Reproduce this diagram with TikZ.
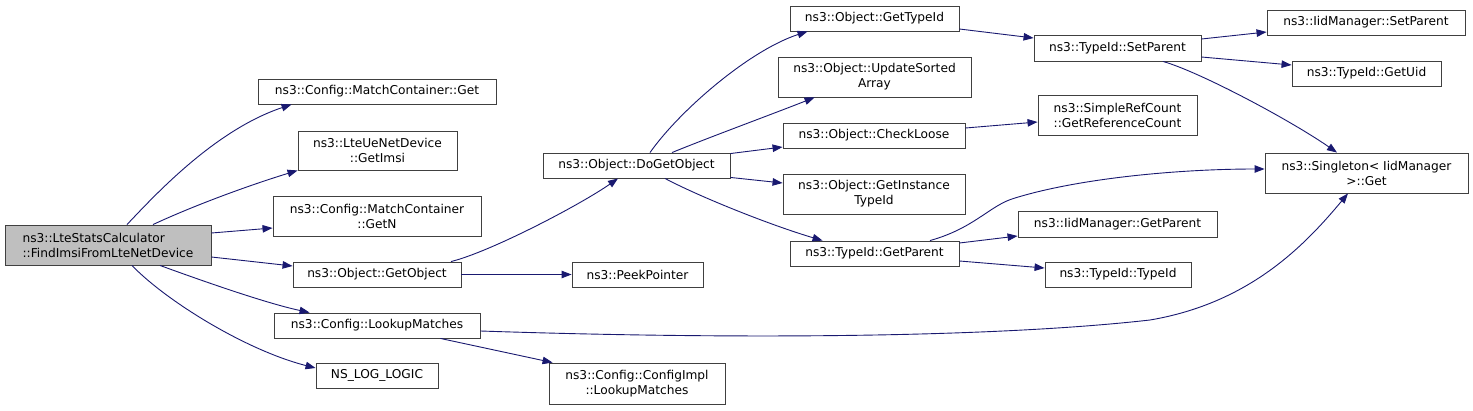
\documentclass[tikz,border=0pt]{standalone}
\usepackage{fontspec}
\setmainfont{DejaVu Sans}
\usetikzlibrary{arrows.meta}
\definecolor{edgec}{HTML}{191970}
\definecolor{boxc}{HTML}{404040}
\definecolor{rootc}{HTML}{BFBFBF}
\begin{document}
\begin{tikzpicture}[x=1pt,y=-1pt,
  box/.style={draw=boxc,line width=0.9pt,rectangle,inner sep=0pt,align=center,font=\fontsize{12.2}{15}\selectfont,fill=white},
  edge/.style={draw=edgec,line width=0.9pt,-{Triangle[length=10pt,width=7.5pt]},fill=none}]
\useasboundingbox[fill=white] (0,0) rectangle (1473,410);
% nodes
\node[box,fill=rootc,align=left,minimum width=206,minimum height=40] (root) at (108,245) {ns3::LteStatsCalculator\\::FindImsiFromLteNetDevice};
\node[box,minimum width=238,minimum height=25] (mcget) at (377,91.5) {ns3::Config::MatchContainer::Get};
\node[box,minimum width=159,minimum height=39] (getimsi) at (377.5,150.5) {ns3::LteUeNetDevice\\::GetImsi};
\node[box,minimum width=208,minimum height=40] (getn) at (377,216) {ns3::Config::MatchContainer\\::GetN};
\node[box,minimum width=168,minimum height=25] (getobject) at (377,274.5) {ns3::Object::GetObject};
\node[box,minimum width=206,minimum height=25] (lookup) at (377,325.5) {ns3::Config::LookupMatches};
\node[box,minimum width=122,minimum height=25] (nslog) at (377,375.5) {NS\_LOG\_LOGIC};
\node[box,minimum width=169,minimum height=25] (gettypeid) at (874.5,18.5) {ns3::Object::GetTypeId};
\node[box,minimum width=193,minimum height=40] (update) at (874.5,77) {ns3::Object::UpdateSorted\\Array};
\node[box,minimum width=182,minimum height=25] (checkloose) at (874,135.5) {ns3::Object::CheckLoose};
\node[box,minimum width=187,minimum height=25] (dogetobject) at (636.5,165.5) {ns3::Object::DoGetObject};
\node[box,minimum width=182,minimum height=40] (getinst) at (874,194) {ns3::Object::GetInstance\\TypeId};
\node[box,minimum width=169,minimum height=25] (tgetparent) at (874.5,253.5) {ns3::TypeId::GetParent};
\node[box,minimum width=131,minimum height=25] (peek) at (637.5,274.5) {ns3::PeekPointer};
\node[box,minimum width=176,minimum height=41] (configimpl) at (637,383.5) {ns3::Config::ConfigImpl\\::LookupMatches};
\node[box,minimum width=167,minimum height=26] (setparent) at (1117.5,48) {ns3::TypeId::SetParent};
\node[box,minimum width=198,minimum height=25] (iidsetparent) at (1366,22.5) {ns3::IidManager::SetParent};
\node[box,minimum width=149,minimum height=25] (getuid) at (1366.5,73.5) {ns3::TypeId::GetUid};
\node[box,minimum width=159,minimum height=40] (simpleref) at (1117.5,115) {ns3::SimpleRefCount\\::GetReferenceCount};
\node[box,minimum width=203,minimum height=40] (singleton) at (1366.5,173) {ns3::Singleton< IidManager\\>::Get};
\node[box,minimum width=199,minimum height=26] (iidgetparent) at (1117.5,224) {ns3::IidManager::GetParent};
\node[box,minimum width=146,minimum height=25] (typeidtypeid) at (1118,274.5) {ns3::TypeId::TypeId};
% edges
\draw[edge] ([xshift=19pt]root.north) .. controls (155,195) and (215,130) .. ([xshift=34pt]mcget.south west);
\draw[edge] ([xshift=45pt]root.north) .. controls (195,205) and (250,185) .. (getimsi.south west);
\draw[edge] ([yshift=12pt]root.east) -- ([yshift=-12pt]getn.west);
\draw[edge] ([yshift=-12pt]root.east) -- ([yshift=8.5pt]getobject.west);
\draw[edge] ([xshift=52pt]root.south) .. controls (200,280) and (265,303) .. ([xshift=36pt]lookup.north west);
\draw[edge] ([xshift=24pt]root.south) .. controls (165,300) and (245,350) .. ([yshift=7.5pt]nslog.west);
\draw[edge] ([xshift=74pt]getobject.north) .. controls (490,252) and (580,205) .. ([xshift=-18.5pt]dogetobject.south);
\draw[edge] (getobject.east) -- (peek.west);
\draw[edge] ([yshift=-5.5pt]lookup.east) .. controls (750,340) and (1000,337) .. (1150,320) .. controls (1250,303) and (1305,245) .. ([xshift=-18.5pt]singleton.south);
\draw[edge] ([xshift=-40pt]lookup.south east) -- ([xshift=4pt]configimpl.north west);
\draw[edge] ([xshift=13.5pt]dogetobject.north) .. controls (680,110) and (750,50) .. ([xshift=18pt]gettypeid.south west);
\draw[edge] ([xshift=35.5pt]dogetobject.north) .. controls (710,137) and (770,115) .. ([xshift=37pt]update.south west);
\draw[edge] ([yshift=-1pt]dogetobject.north east) -- ([yshift=-11.5pt]checkloose.west);
\draw[edge] ([yshift=1pt]dogetobject.south east) -- ([yshift=11pt]getinst.west);
\draw[edge] ([xshift=28.5pt]dogetobject.south) .. controls (700,197) and (770,225) .. ([xshift=33pt]tgetparent.north west);
\draw[edge] ([yshift=-10.5pt]gettypeid.east) -- ([yshift=10pt]setparent.west);
\draw[edge] ([yshift=7.5pt]checkloose.east) -- ([yshift=-7pt]simpleref.west);
\draw[edge] ([xshift=55.5pt]tgetparent.north) .. controls (975,228) and (990,205) .. (1015,198) .. controls (1080,178) and (1180,169) .. ([yshift=4pt]singleton.west);
\draw[edge] ([yshift=10.5pt]tgetparent.east) -- ([yshift=-12pt]iidgetparent.west);
\draw[edge] ([yshift=-7.5pt]tgetparent.east) -- ([yshift=6.5pt]typeidtypeid.west);
\draw[edge] ([yshift=9pt]setparent.east) -- ([yshift=-9.5pt]iidsetparent.west);
\draw[edge] ([yshift=-9pt]setparent.east) -- ([yshift=8.5pt]getuid.west);
\draw[edge] ([xshift=45.5pt]setparent.south) .. controls (1200,72) and (1290,120) .. ([xshift=-29.5pt]singleton.north);
\end{tikzpicture}
\end{document}
